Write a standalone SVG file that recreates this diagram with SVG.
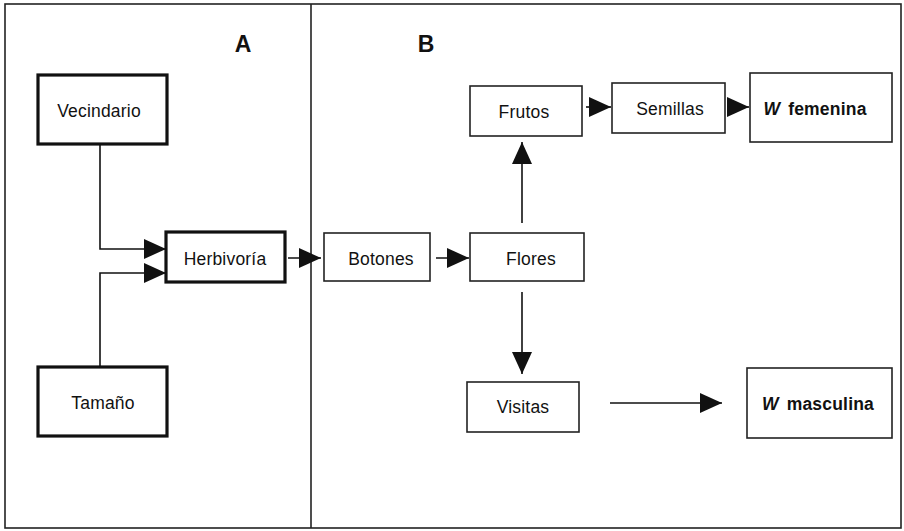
<svg xmlns="http://www.w3.org/2000/svg" width="904" height="531" viewBox="0 0 904 531">
<style>
.frame{fill:none;stroke:#222;stroke-width:1.6}
.thick{fill:#fff;stroke:#111;stroke-width:3.2}
.thin{fill:#fff;stroke:#222;stroke-width:1.6}
.lbl{font-family:"Liberation Sans",Arial,sans-serif;font-size:17.5px;letter-spacing:0.2px;fill:#111;text-anchor:middle}
.bold{font-weight:bold}
.big{font-family:"Liberation Sans",Arial,sans-serif;font-size:23px;font-weight:bold;fill:#111;text-anchor:middle}
.con{fill:none;stroke:#111;stroke-width:1.6}
</style>
<defs>
<marker id="ah" viewBox="0 0 22 20" markerWidth="22" markerHeight="20" refX="22" refY="10" markerUnits="userSpaceOnUse" orient="auto">
<path d="M0,0 L22,10 L0,20 Z" fill="#111"/>
</marker>
</defs>
<rect width="904" height="531" fill="#fff"/>
<rect class="frame" x="5" y="4" width="896" height="524"/>
<line class="frame" x1="311" y1="4" x2="311" y2="528"/>
<text class="big" x="243" y="52">A</text>
<text class="big" x="426" y="52">B</text>

<g id="vecindario"><rect class="thick" x="38" y="75" width="129" height="69"/><text class="lbl" x="99" y="117">Vecindario</text></g>
<g id="tamano"><rect class="thick" x="38" y="367" width="129" height="69"/><text class="lbl" x="103" y="409">Tamaño</text></g>
<g id="herbivoria"><rect class="thick" x="166" y="232" width="119" height="50"/><text class="lbl" x="225" y="265">Herbivoría</text></g>
<g id="botones"><rect class="thin" x="324" y="233" width="106" height="48"/><text class="lbl" x="381" y="265">Botones</text></g>
<g id="flores"><rect class="thin" x="470" y="233" width="114" height="48"/><text class="lbl" x="531" y="265">Flores</text></g>
<g id="frutos"><rect class="thin" x="470" y="86" width="112" height="50"/><text class="lbl" x="524" y="118">Frutos</text></g>
<g id="semillas"><rect class="thin" x="612" y="83" width="113" height="50"/><text class="lbl" x="670" y="115">Semillas</text></g>
<g id="wfem"><rect class="thin" x="750" y="73" width="142" height="69"/><text class="lbl bold" x="815" y="115"><tspan font-style="italic">W</tspan><tspan dx="8">femenina</tspan></text></g>
<g id="visitas"><rect class="thin" x="467" y="382" width="112" height="50"/><text class="lbl" x="523" y="413">Visitas</text></g>
<g id="wmasc"><rect class="thin" x="747" y="368" width="145" height="70"/><text class="lbl bold" x="818" y="410"><tspan font-style="italic">W</tspan><tspan dx="8">masculina</tspan></text></g>

<g id="connectors">
<path class="con" d="M100,144 V249 H166" marker-end="url(#ah)"/>
<path class="con" d="M100,367 V273 H166" marker-end="url(#ah)"/>
<path class="con" d="M288,258 H321" marker-end="url(#ah)"/>
<path class="con" d="M436,258 H469" marker-end="url(#ah)"/>
<path class="con" d="M522,223 V142" marker-end="url(#ah)"/>
<path class="con" d="M522,292 V374" marker-end="url(#ah)"/>
<path class="con" d="M586,107 H611" marker-end="url(#ah)"/>
<path class="con" d="M727,107 H749" marker-end="url(#ah)"/>
<path class="con" d="M610,403 H722" marker-end="url(#ah)"/>
</g>
</svg>
